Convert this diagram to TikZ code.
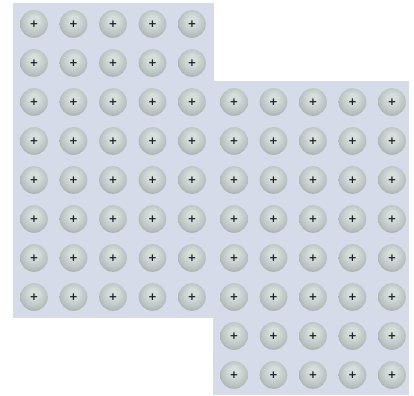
\documentclass[tikz,border=0pt]{standalone}
\usepackage{tikz}
\usetikzlibrary{positioning,calc}
\usepackage{xcolor}
\usepackage{fontspec}
\newfontfamily\signfont{DejaVu Sans}
\definecolor{sheetbg}{HTML}{D5DBE8}
\definecolor{ionhi}{HTML}{D6DEDC}
\definecolor{ionmid}{HTML}{B6C1BF}
\definecolor{ionedge}{HTML}{8C9896}
\definecolor{ionsign}{HTML}{1A1E20}
\pgfdeclareradialshading{ionshade}{\pgfqpoint{0bp}{8bp}}{%
  color(0bp)=(ionhi); color(8bp)=(ionhi); color(24bp)=(ionmid);
  color(35bp)=(ionedge); color(50bp)=(ionedge)}

\begin{document}
\begin{tikzpicture}[
  x=0.03cm, y=-0.03cm,
  sheet/.style={fill=sheetbg, draw=none},
  ion/.style={circle, shading=ionshade, minimum size=0.83cm, inner sep=0pt,
    text=ionsign, font=\signfont\bfseries\fontsize{9}{9}\selectfont}
]
  \useasboundingbox (0,0) rectangle (414,396);
  % two sheets of positive ions
  \fill[sheet] (13,3) rectangle (214,318);
  \fill[sheet] (213,81) rectangle (409,395);
  % left sheet: 5 columns, 8 rows
  \foreach \c [count=\i] in {34,73.5,113,152.5,192}
    \foreach \r [count=\j] in {24,63,102,141,180,219,258,297}
      \node[ion] (l-\i-\j) at (\c,\r) {+};
  % right sheet: 5 columns, 8 rows
  \foreach \c [count=\i] in {234,273.5,313,352.5,392}
    \foreach \r [count=\j] in {102,141,180,219,258,297,336,375}
      \node[ion] (r-\i-\j) at (\c,\r) {+};
\end{tikzpicture}
\end{document}
